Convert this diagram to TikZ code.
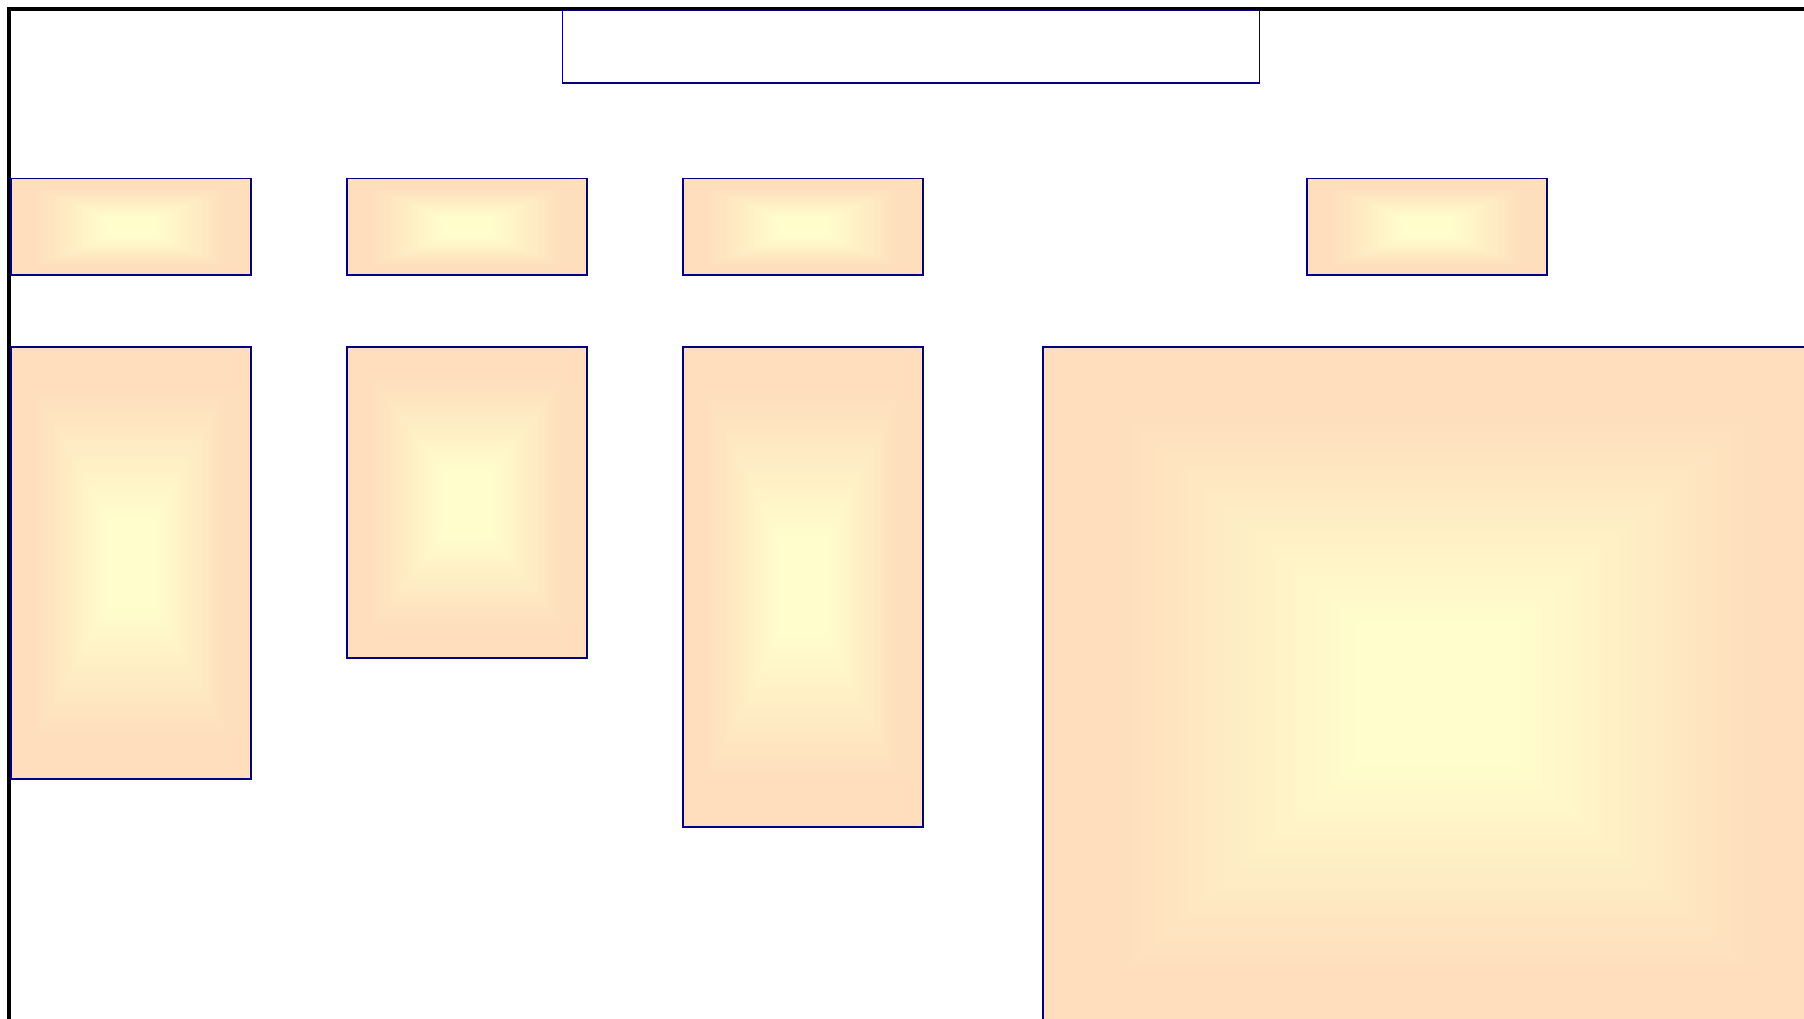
\documentclass[tikz,border=0pt]{standalone}
\usepackage{tikz}
\usetikzlibrary{positioning}

\definecolor{boxline}{RGB}{0,0,128}

% rectangular glow: light yellow centre, peach edges
\pgfdeclarefunctionalshading{boxglow}{\pgfpoint{-50bp}{-50bp}}{\pgfpoint{50bp}{50bp}}{}{
  abs exch abs
  2 copy lt {exch} if pop
  25 div 0.2 sub 0.6 div
  dup 0 lt {pop 0} if
  dup 1 gt {pop 1} if
  dup -0.004 mul 1 add exch
  dup -0.121 mul 0.992 add exch
  -0.059 mul 0.8 add
}

\begin{document}
\begin{tikzpicture}[
    x=0.02cm, y=-0.02cm,
    frame/.style={draw=black, line width=0.08cm, minimum width=36.42cm,
                  minimum height=20.73cm, inner sep=0pt},
    hdrbox/.style={draw=boxline, line width=0.036cm, fill=white,
                   minimum width=13.94cm, minimum height=1.45cm, inner sep=0pt},
    glow/.style={draw=boxline, line width=0.036cm, shading=boxglow,
                 minimum width=4.81cm, inner sep=0pt},
    capbox/.style={glow, minimum height=1.93cm}
]
\useasboundingbox (0,0) rectangle (1804,1018);

% Outer frame (runs off the page right and below)
\node[frame] (frm) at (919.5,526.8) {};

% Header
\node[hdrbox] (hdr) at (911,46.8) {};

% Caption boxes
\node[capbox] (capA) at (131,226.8) {};
\node[capbox] (capB) at (467,226.8) {};
\node[capbox] (capC) at (803,226.8) {};
\node[capbox] (capD) at (1427,226.8) {};

% Columns
\node[glow, minimum height=8.65cm] (colA) at (131,562.8) {};
\node[glow, minimum height=6.23cm] (colB) at (467,502.4) {};
\node[glow, minimum height=9.6cm]  (colC) at (803,586.7) {};

% Main panel (cut by the page edge)
\node[glow, minimum width=15.74cm, minimum height=13.87cm] (main) at (1436.5,693.4) {};

\end{tikzpicture}
\end{document}
